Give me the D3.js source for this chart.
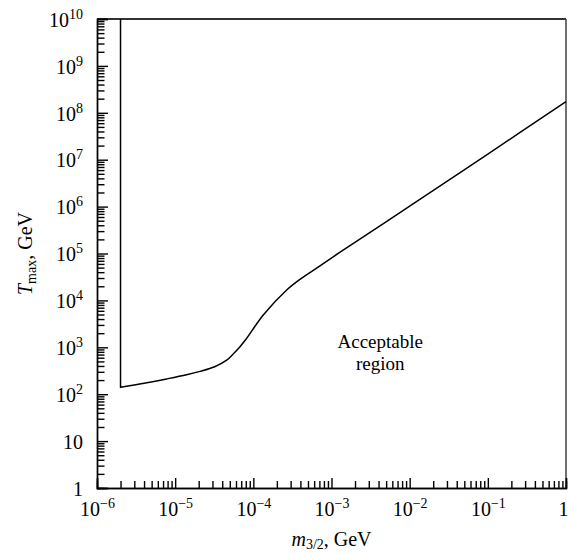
<!DOCTYPE html>
<html>
<head>
<meta charset="utf-8">
<script src="https://cdn.jsdelivr.net/npm/d3@7"></script>
<style>
  body { margin: 0; background: #fff; }
  svg { display: block; }
  svg text { font-family: "Liberation Serif", "Times New Roman", Times, "DejaVu Serif", serif; }
</style>
</head>
<body>
<svg id="chart" width="568" height="554"></svg>
<script>
// gravitino mass, GeV
const massValues = [2e-6, 4e-6, 7.8e-6, 1.4e-5, 2.08e-5, 3.2e-5, 4.56e-5, 5.6e-5, 6.75e-5, 8.05e-5,
  1.34e-4, 2.67e-4, 3.95e-4, 7.13e-4, 1.26e-3, 1e-2, 1e-1, 1];
// maximal reheating temperature, GeV
const tmaxValues = [140, 171, 212, 260, 307, 386, 533, 738, 1030, 1480,
  4890, 16700, 28200, 54500, 104000, 1.02e6, 1.32e7, 1.73e8];

const xDecades = [-6, -5, -4, -3, -2, -1, 0];
const yDecades = [0, 1, 2, 3, 4, 5, 6, 7, 8, 9, 10];

const regionLabel = ['Acceptable', 'region'];
const regionAnchor = { m: 4.2e-3, t: 965 };

const margin = { top: 19, right: 2, bottom: 66, left: 97 };
const width = 568, height = 554;
const serif = '"Liberation Serif", "Times New Roman", Times, serif';

const svg = d3.select('#chart');

const x = d3.scaleLog()
  .domain([1e-6, 1])
  .range([margin.left, width - margin.right]);

const y = d3.scaleLog()
  .domain([1, 1e10])
  .range([height - margin.bottom, margin.top]);

// minor ticks 2..9 in every decade
function minorTicks(decades) {
  const out = [];
  decades.slice(0, -1).forEach(e => {
    for (let k = 2; k <= 9; k++) out.push(k * Math.pow(10, e));
  });
  return out;
}

// superscript-style labels for powers of ten
function powerLabel(sel, e, supSize, supDy) {
  sel.text(null);
  if (e === 0) { sel.append('tspan').text('1'); return; }
  if (e === 1) { sel.append('tspan').text('10'); return; }
  sel.append('tspan').text('10');
  sel.append('tspan')
    .attr('font-size', supSize)
    .attr('dy', supDy)
    .text(e < 0 ? '\u2212' + (-e) : String(e));
}

// frame: top and right edges
svg.append('line')
  .attr('x1', x.range()[0]).attr('x2', x.range()[1])
  .attr('y1', margin.top).attr('y2', margin.top)
  .attr('stroke', '#333').attr('stroke-width', 2.2);
svg.append('line')
  .attr('x1', x.range()[1]).attr('x2', x.range()[1])
  .attr('y1', margin.top).attr('y2', y.range()[0])
  .attr('stroke', '#333').attr('stroke-width', 1.4);

// Y axis
const yAxisG = svg.append('g')
  .attr('transform', `translate(${margin.left},0)`);

yAxisG.append('g')
  .call(d3.axisLeft(y).tickValues(minorTicks(yDecades)).tickSize(-7.5).tickFormat(''));

yAxisG.append('g')
  .attr('class', 'y-major')
  .call(d3.axisLeft(y).tickValues(yDecades.map(e => Math.pow(10, e))).tickSize(-11).tickPadding(14));

yAxisG.selectAll('.y-major .tick text')
  .attr('font-size', 20)
  .attr('font-family', serif)
  .attr('fill', '#000')
  .attr('dy', '0.36em')
  .each(function(d) {
    powerLabel(d3.select(this), Math.round(Math.log10(d)), 14, -8);
  });

// X axis
const xAxisG = svg.append('g')
  .attr('transform', `translate(0,${height - margin.bottom})`);

xAxisG.append('g')
  .call(d3.axisBottom(x).tickValues(minorTicks(xDecades)).tickSize(-7).tickFormat(''));

xAxisG.append('g')
  .attr('class', 'x-major')
  .call(d3.axisBottom(x).tickValues(xDecades.map(e => Math.pow(10, e))).tickSize(-10).tickPadding(14));

xAxisG.selectAll('.x-major .tick text')
  .attr('font-size', 20)
  .attr('font-family', serif)
  .attr('fill', '#000')
  .attr('dy', '0.72em')
  .each(function(d) {
    powerLabel(d3.select(this), Math.round(Math.log10(d)), 14, -8);
  });

// last label sits on the right edge; keep it inside the window
xAxisG.selectAll('.x-major .tick text')
  .filter(d => d === 1)
  .attr('text-anchor', 'end')
  .attr('x', 2);

svg.selectAll('.domain, .tick line')
  .attr('stroke', '#000')
  .attr('stroke-width', 1.4);

// boundary of the allowed region
const line = d3.line()
  .x(d => x(d[0]))
  .y(d => y(d[1]))
  .curve(d3.curveCatmullRom.alpha(0.5));

const curvePts = massValues.map((m, i) => [m, tmaxValues[i]]);

svg.append('path')
  .attr('d', `M${x(massValues[0])},${y(1e10)}L${x(massValues[0])},${y(tmaxValues[0])}` + line(curvePts).replace(/^M/, 'L'))
  .attr('fill', 'none')
  .attr('stroke', '#000')
  .attr('stroke-width', 1.5)
  .attr('stroke-linejoin', 'miter');

// annotation
svg.append('text')
  .attr('x', x(regionAnchor.m))
  .attr('y', y(regionAnchor.t))
  .attr('text-anchor', 'middle')
  .attr('font-size', 19)
  .selectAll('tspan')
  .data(regionLabel)
  .join('tspan')
  .attr('x', x(regionAnchor.m))
  .attr('dy', (d, i) => i === 0 ? 0 : 22)
  .text(d => d);

// axis titles
const xTitle = svg.append('text')
  .attr('x', (x.range()[0] + x.range()[1]) / 2)
  .attr('y', 546)
  .attr('text-anchor', 'middle')
  .attr('font-size', 20);
xTitle.append('tspan').attr('font-style', 'italic').text('m');
xTitle.append('tspan').attr('font-size', 14).attr('dy', 3).text('3/2');
xTitle.append('tspan').attr('dy', -3).text(', GeV');

const yTitle = svg.append('text')
  .attr('transform', `translate(32,${(y.range()[0] + y.range()[1]) / 2}) rotate(-90)`)
  .attr('text-anchor', 'middle')
  .attr('font-size', 20);
yTitle.append('tspan').attr('font-style', 'italic').text('T');
yTitle.append('tspan').attr('font-size', 14).attr('dy', 4).text('max');
yTitle.append('tspan').attr('dy', -4).text(', GeV');
</script>
</body>
</html>
